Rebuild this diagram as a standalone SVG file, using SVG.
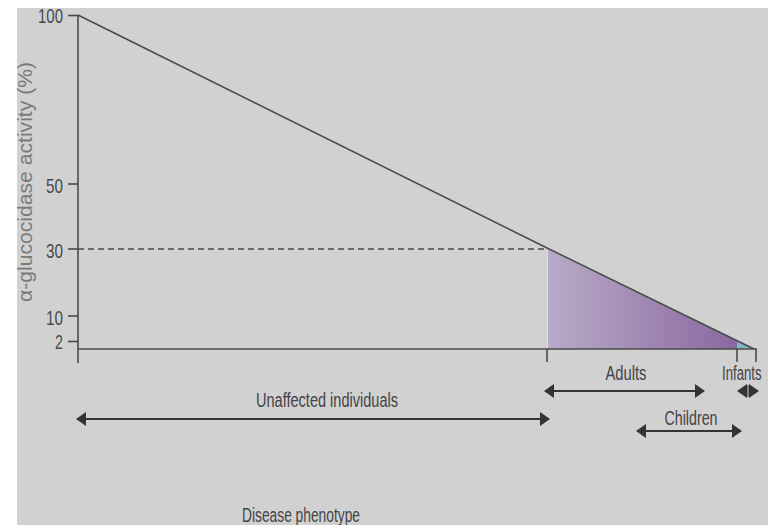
<svg xmlns="http://www.w3.org/2000/svg" width="768" height="525" viewBox="0 0 768 525">
<defs>
<style>
.t{font-family:"Liberation Sans Narrow","Liberation Sans",Arial,sans-serif;fill:#444;}
.tick{font-size:21px;text-anchor:end;fill:#4a4a4a;}
.lbl{font-size:20px;text-anchor:middle;}
.ln{stroke:#4a4a4a;stroke-width:1.6;fill:none;}
.arr{stroke:#333;stroke-width:2;fill:none;}
</style>
<linearGradient id="pg" x1="547" y1="0" x2="737" y2="0" gradientUnits="userSpaceOnUse">
<stop offset="0" stop-color="#b8aac8"/>
<stop offset="1" stop-color="#8a68a0"/>
</linearGradient>
<marker id="ah" viewBox="0 0 10 14" refX="9" refY="7" markerWidth="10" markerHeight="14" markerUnits="userSpaceOnUse" orient="auto-start-reverse">
<path d="M0,0 L10,7 L0,14 Z" fill="#333"/>
</marker>
</defs>
<rect x="17" y="8" width="751" height="517" fill="#d1d1d1"/>
<g id="plot">
<polygon points="547,249 737,341 737,349 547,349" fill="url(#pg)"/>
<polygon points="737,341 753,348 737,349" fill="#7fb9c9"/>
<line x1="547.5" y1="249" x2="547.5" y2="349" stroke="#e0dce6" stroke-width="1"/>
<line class="ln" x1="78" y1="249" x2="547" y2="249" stroke-dasharray="6 4" stroke-width="2"/>
<polyline class="ln" points="78,15 547,248 754,349"/>
</g>
<g id="axes">
<line class="ln" x1="78" y1="15" x2="78" y2="363"/>
<line class="ln" x1="78" y1="349" x2="757" y2="349"/>
<line class="ln" x1="68" y1="15.5" x2="78" y2="15.5"/>
<line class="ln" x1="68" y1="184" x2="78" y2="184"/>
<line class="ln" x1="68" y1="249" x2="78" y2="249"/>
<line class="ln" x1="68" y1="316" x2="78" y2="316"/>
<line class="ln" x1="68" y1="341.5" x2="78" y2="341.5"/>
<line class="ln" x1="547" y1="349" x2="547" y2="362"/>
<line class="ln" x1="737" y1="349" x2="737" y2="362"/>
<line class="ln" x1="756" y1="349" x2="756" y2="362"/>
<text class="t tick" x="63" y="23" textLength="25" lengthAdjust="spacingAndGlyphs">100</text>
<text class="t tick" x="63" y="193" textLength="17" lengthAdjust="spacingAndGlyphs">50</text>
<text class="t tick" x="63" y="258" textLength="17" lengthAdjust="spacingAndGlyphs">30</text>
<text class="t tick" x="63" y="325" textLength="17" lengthAdjust="spacingAndGlyphs">10</text>
<text class="t tick" x="63" y="349" textLength="8" lengthAdjust="spacingAndGlyphs">2</text>
<text class="t" x="0" y="0" transform="translate(32,182) rotate(-90)" font-size="20" text-anchor="middle" style="fill:#7a7a7a" textLength="240" lengthAdjust="spacingAndGlyphs">α-glucocidase activity (%)</text>
</g>
<g id="connectors">
<line class="arr" x1="77" y1="419" x2="549" y2="419" marker-start="url(#ah)" marker-end="url(#ah)"/>
<line class="arr" x1="545" y1="391" x2="704" y2="391" marker-start="url(#ah)" marker-end="url(#ah)"/>
<line class="arr" x1="637" y1="431" x2="741" y2="431" marker-start="url(#ah)" marker-end="url(#ah)"/>
<path d="M737,391 L747,384 L747,398 Z M759,391 L749,384 L749,398 Z" fill="#333"/>
<line x1="748" y1="385" x2="748" y2="397" stroke="#333" stroke-width="1"/>
</g>
<g id="unaffected">
<text class="t lbl" x="327" y="407" textLength="142" lengthAdjust="spacingAndGlyphs">Unaffected individuals</text>
</g>
<g id="adults">
<text class="t lbl" x="626" y="380" textLength="41" lengthAdjust="spacingAndGlyphs">Adults</text>
</g>
<g id="infants">
<text class="t" transform="translate(722,380) scale(0.66,1)" x="0" y="0" font-size="20">Infants</text>
</g>
<g id="children">
<text class="t lbl" x="691" y="425" textLength="53" lengthAdjust="spacingAndGlyphs">Children</text>
</g>
<g id="phenotype">
<text class="t lbl" x="301" y="522" textLength="118" lengthAdjust="spacingAndGlyphs">Disease phenotype</text>
</g>
</svg>
